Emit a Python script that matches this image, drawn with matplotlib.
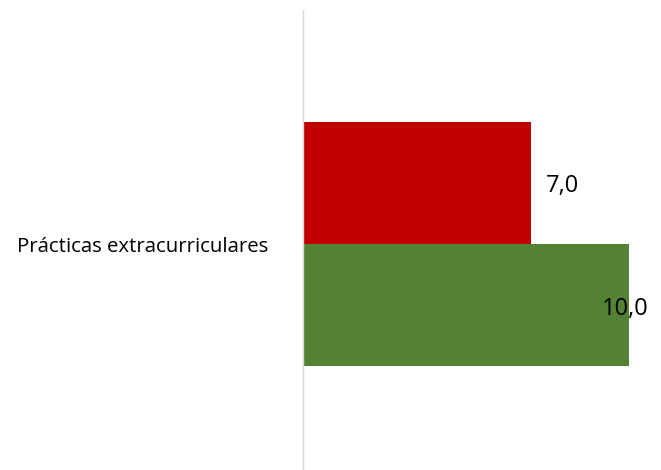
import matplotlib
matplotlib.use("Agg")
import matplotlib.pyplot as plt

categories = ["Prácticas extracurriculares"]
series_names = ["Serie 1", "Serie 2"]
values_red = [7.0]
values_green = [10.0]
colors = ["#C00000", "#548235"]

W, H = 661, 470
fig = plt.figure(figsize=(W / 100, H / 100), dpi=100)
# axes: left at x=303px, vertical span centred on y=244px
ax = fig.add_axes([303 / W, (470 - 478) / H, (W - 303) / W, 468 / H])

bh = 122 / 468
ax.barh([0 + bh / 2], values_red, height=bh, color=colors[0])
ax.barh([0 - bh / 2], values_green, height=bh, color=colors[1])
ax.set_ylim(-0.5, 0.5)
ax.set_xlim(0, 10 * (W - 303) / (629 - 303))

font = "Open Sans"
ax.annotate(f"{values_red[0]:.1f}".replace(".", ","), (values_red[0], bh / 2),
            xytext=(15 * 0.72, -2), textcoords="offset points",
            ha="left", va="center", fontsize=17, family=font)
ax.annotate(f"{values_green[0]:.1f}".replace(".", ","), (values_green[0], -bh / 2),
            xytext=(-27 * 0.72, -3), textcoords="offset points",
            ha="left", va="center", fontsize=17, family=font)

ax.set_yticks([0])
ax.set_yticklabels(categories, family=font, fontsize=14.7)
ax.tick_params(axis="y", length=0, pad=35 * 0.72)
ax.set_xticks([])
for s in ["top", "right", "bottom"]:
    ax.spines[s].set_visible(False)
ax.spines["left"].set_color("#D9D9D9")
ax.spines["left"].set_linewidth(1.0)

fig.savefig("out.png", dpi=100)
